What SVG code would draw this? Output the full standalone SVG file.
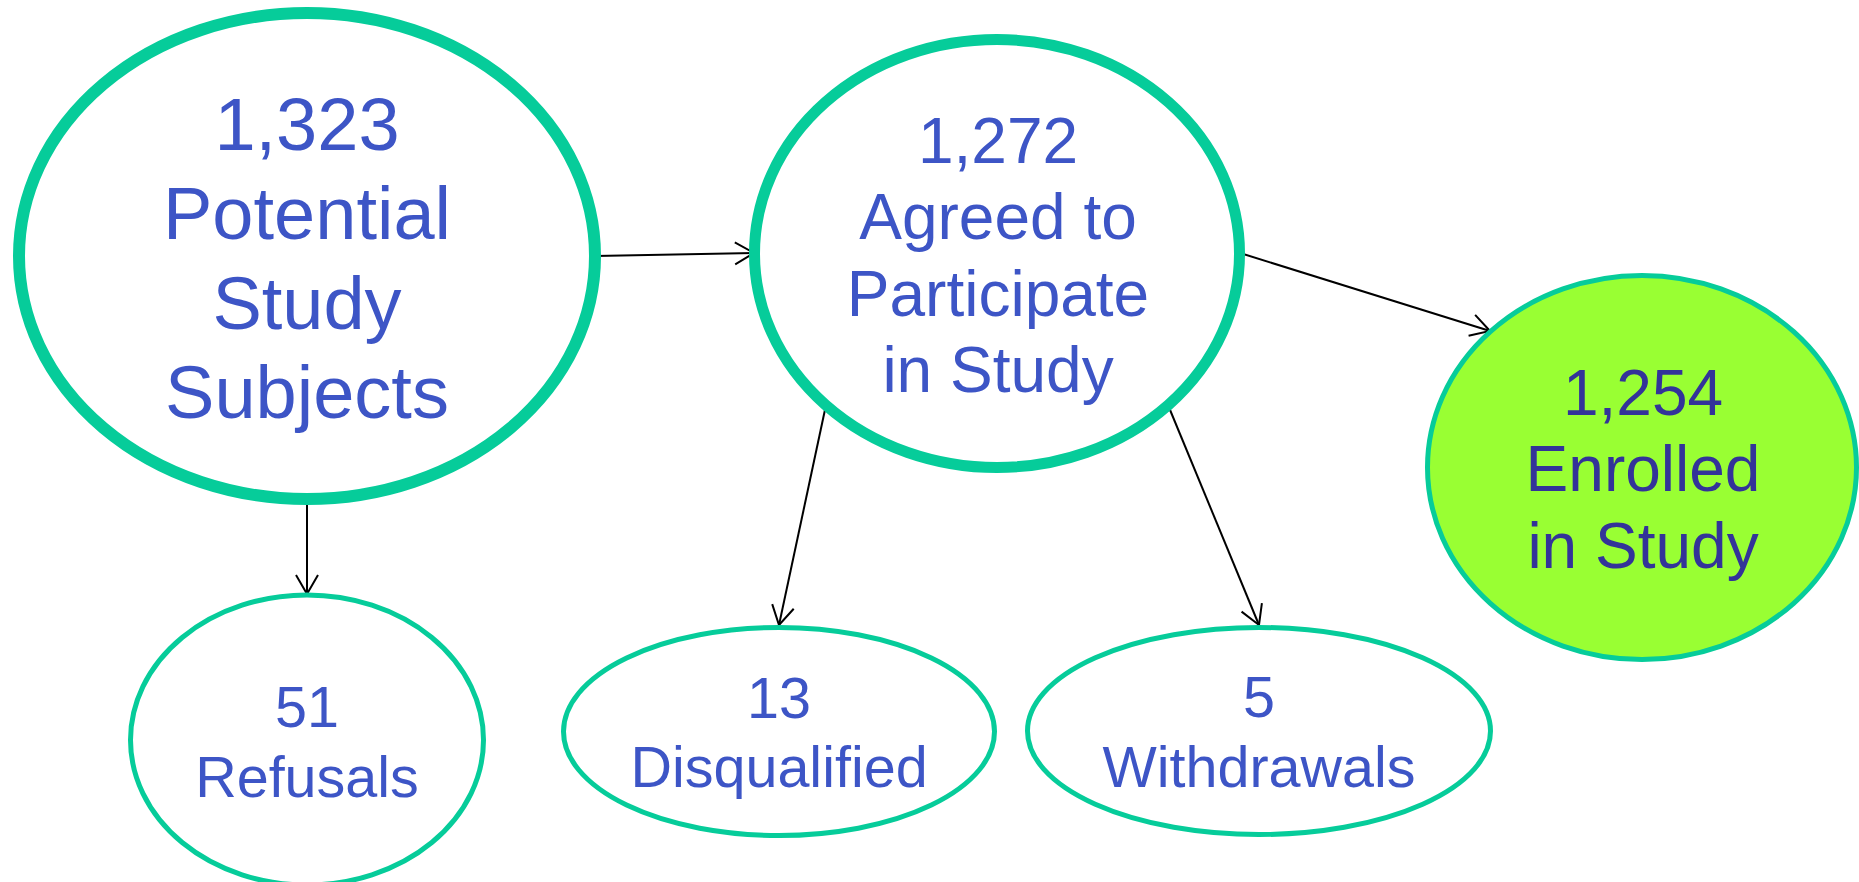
<svg xmlns="http://www.w3.org/2000/svg" width="1859" height="882" viewBox="0 0 1859 882">
<style>
.node{fill:#fff;stroke:#06CC9A}
.lbl{font-family:"Liberation Sans",Arial,sans-serif;fill:#3D55C6;text-anchor:middle}
.edge{stroke:#000;stroke-width:2;fill:none;marker-end:url(#arr)}
</style>
<defs>
<marker id="arr" markerWidth="24" markerHeight="26" refX="20" refY="13" orient="auto" markerUnits="userSpaceOnUse">
<path d="M1,2 L20,13 L1,24" fill="none" stroke="#000" stroke-width="2"/>
</marker>
</defs>
<rect width="1859" height="882" fill="#fff"/>
<g id="connectors">
<line class="edge" x1="595" y1="256" x2="754" y2="253"/>
<line class="edge" x1="1240" y1="253" x2="1490" y2="331"/>
<line class="edge" x1="307" y1="500" x2="307" y2="594"/>
<line class="edge" x1="826" y1="405" x2="779" y2="625"/>
<line class="edge" x1="1168" y1="405" x2="1259" y2="625"/>
</g>
<g id="potential">
<ellipse class="node" cx="307" cy="256" rx="288" ry="243" stroke-width="12"/>
<text class="lbl" font-size="74"><tspan x="307" y="150">1,323</tspan><tspan x="307" y="239">Potential</tspan><tspan x="307" y="329">Study</tspan><tspan x="307" y="418">Subjects</tspan></text>
</g>
<g id="agreed">
<ellipse class="node" cx="997" cy="253.5" rx="242.5" ry="214" stroke-width="11"/>
<text class="lbl" font-size="64"><tspan x="998" y="163">1,272</tspan><tspan x="998" y="239">Agreed to</tspan><tspan x="998" y="316">Participate</tspan><tspan x="998" y="392">in Study</tspan></text>
</g>
<g id="enrolled">
<ellipse cx="1642" cy="467.5" rx="214.5" ry="192" fill="#99FF33" stroke="#06CC9A" stroke-width="5"/>
<text class="lbl" font-size="64" style="fill:#333399"><tspan x="1643" y="415">1,254</tspan><tspan x="1643" y="491">Enrolled</tspan><tspan x="1643" y="568">in Study</tspan></text>
</g>
<g id="refusals">
<ellipse class="node" cx="307" cy="740" rx="176.5" ry="145" stroke-width="5"/>
<text class="lbl" font-size="57.5"><tspan x="307" y="727">51</tspan><tspan x="307" y="797">Refusals</tspan></text>
</g>
<g id="disqualified">
<ellipse class="node" cx="779" cy="731.5" rx="215.5" ry="104" stroke-width="5"/>
<text class="lbl" font-size="57.5"><tspan x="779" y="718">13</tspan><tspan x="779" y="787">Disqualified</tspan></text>
</g>
<g id="withdrawals">
<ellipse class="node" cx="1259" cy="731" rx="231.5" ry="103.5" stroke-width="5"/>
<text class="lbl" font-size="57.5"><tspan x="1259" y="717">5</tspan><tspan x="1259" y="787">Withdrawals</tspan></text>
</g>
</svg>
